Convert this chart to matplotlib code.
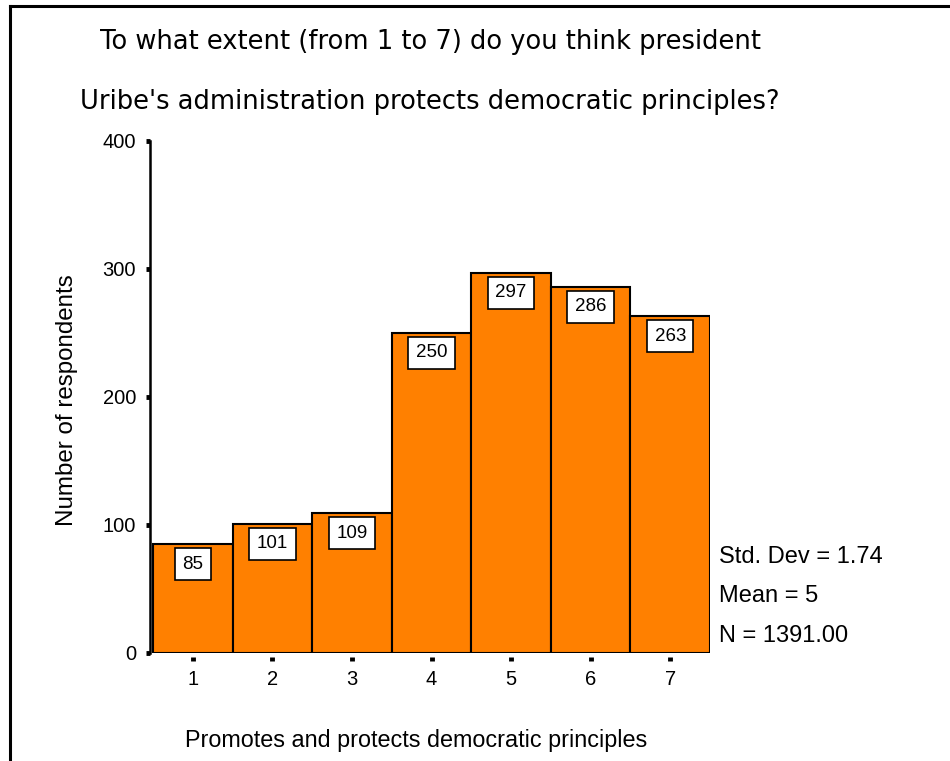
import matplotlib
matplotlib.use("Agg")
import matplotlib.pyplot as plt

# Response scale and counts per answer
categories = [1, 2, 3, 4, 5, 6, 7]
counts = [85, 101, 109, 250, 297, 286, 263]
y_ticks = [0, 100, 200, 300, 400]

title_lines = ["To what extent (from 1 to 7) do you think president",
               "Uribe's administration protects democratic principles?"]
x_label = "Promotes and protects democratic principles"
y_label = "Number of respondents"
stats_lines = ["Std. Dev = 1.74", "Mean = 5", "N = 1391.00"]

BAR_COLOR = "#FF8000"
FONT = "Liberation Sans"

fig = plt.figure(figsize=(9.5, 7.61), dpi=100)
fig.patch.set_facecolor("white")

# frame lines on the left and top of the figure
fig.add_artist(plt.Line2D([9.5 / 950, 9.5 / 950], [0, 1 - 6 / 761], color="black", lw=2.2))
fig.add_artist(plt.Line2D([9.5 / 950, 1], [1 - 6 / 761, 1 - 6 / 761], color="black", lw=2.2))

ax = fig.add_axes([150 / 950, 108 / 761, 560 / 950, 512 / 761])
ax.bar(categories, counts, width=1.0, color=BAR_COLOR, edgecolor="black", linewidth=1.5)
ax.set_xlim(0.462, 7.5)
ax.set_ylim(0, 400)

for x, v in zip(categories, counts):
    ax.annotate(str(v), xy=(x, v), xytext=(0, -20), textcoords="offset pixels",
                ha="center", va="center", fontsize=13.5, family=FONT,
                bbox=dict(boxstyle="square,pad=0.4", facecolor="white",
                          edgecolor="black", linewidth=1.2))

for side in ("top", "right"):
    ax.spines[side].set_visible(False)
ax.spines["left"].set_linewidth(1.8)
ax.spines["bottom"].set_visible(False)
ax.spines["bottom"].set_position(("outward", 3))

ax.set_xticks(categories)
ax.set_yticks(y_ticks)
ax.tick_params(axis="y", direction="out", length=3, width=3.5, pad=7, labelsize=14.5)
ax.tick_params(axis="x", direction="out", length=3, width=3.5, pad=6, labelsize=14.5)
for lab in ax.get_xticklabels() + ax.get_yticklabels():
    lab.set_family(FONT)

fig.text(67 / 950, 1 - 400 / 761, y_label, rotation=90, ha="center", va="center",
         fontsize=17.4, family=FONT)
fig.text(416 / 950, 1 - 741 / 761, x_label, ha="center", va="center",
         fontsize=16.8, family=FONT)

fig.text(100 / 950, 1 - 42 / 761, title_lines[0], ha="left", va="center",
         fontsize=18.5, family="DejaVu Sans")
fig.text(80 / 950, 1 - 102 / 761, title_lines[1], ha="left", va="center",
         fontsize=18.5, family="DejaVu Sans")

for i, s in enumerate(stats_lines):
    fig.text(719 / 950, 1 - (557 + 39.5 * i) / 761, s, ha="left", va="center",
             fontsize=17, family=FONT)

fig.savefig("out.png", dpi=100, facecolor="white")
